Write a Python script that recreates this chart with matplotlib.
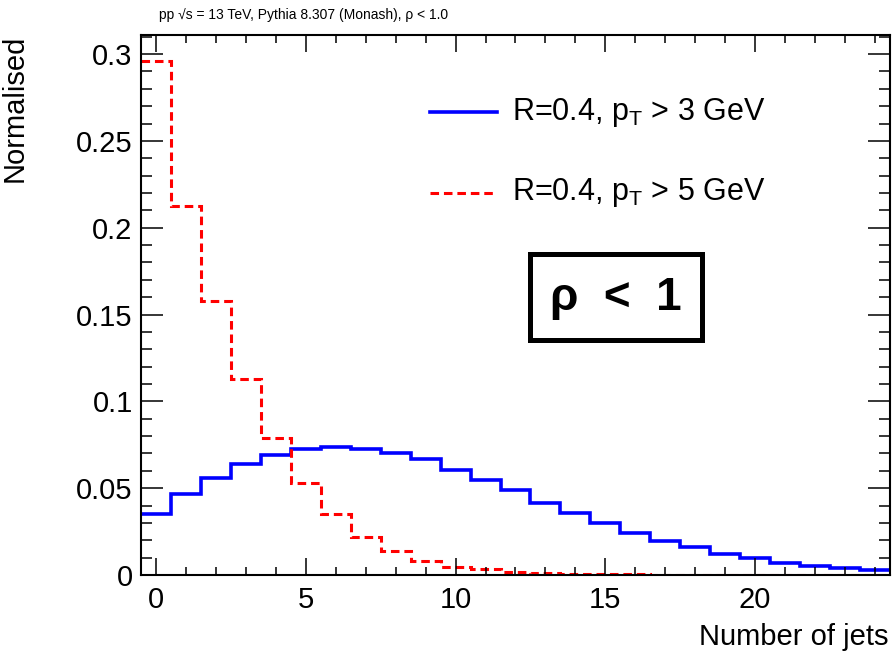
# Jet multiplicity, rho < 1, two pT thresholds
import matplotlib
matplotlib.use('Agg')
import matplotlib.pyplot as plt
from matplotlib.patches import Rectangle
from matplotlib.ticker import MultipleLocator, FixedLocator
import numpy as np

plt.rcParams['font.family'] = ['Liberation Sans', 'DejaVu Sans']
plt.rcParams['mathtext.fontset'] = 'custom'
plt.rcParams['mathtext.rm'] = 'Liberation Sans'
plt.rcParams['mathtext.it'] = 'Liberation Sans'

# bin centres: integer jet counts
n_jets = list(range(0, 25))

pt3 = [0.0350, 0.0465, 0.0561, 0.0640, 0.0692, 0.0725, 0.0736, 0.0725,
       0.0702, 0.0667, 0.0606, 0.0548, 0.0490, 0.0417, 0.0356, 0.0302,
       0.0244, 0.0198, 0.0159, 0.0121, 0.0096, 0.0071, 0.0054, 0.0038,
       0.0029]
pt5 = [0.2962, 0.2125, 0.1580, 0.1131, 0.0788, 0.0529, 0.0350, 0.0221,
       0.0138, 0.0081, 0.0048, 0.0032, 0.0019, 0.0012, 0.0008, 0.0005,
       0.0003, 0.0002, 0.0001, 0.0001, 0.0, 0.0, 0.0, 0.0, 0.0]

ytick_vals = [0, 0.05, 0.1, 0.15, 0.2, 0.25, 0.3]
ytick_labels = ['0', '0.05', '0.1', '0.15', '0.2', '0.25', '0.3']
xtick_vals = [0, 5, 10, 15, 20]

label3 = r'R=0.4, p$_{\mathrm{T}}$ > 3 GeV'
label5 = r'R=0.4, p$_{\mathrm{T}}$ > 5 GeV'


def main():
    fig = plt.figure(figsize=(8.94, 6.57), dpi=100)
    ax = fig.add_axes([0.1577, 0.1248, 0.8378, 0.8219])

    edges = np.append(np.array(n_jets) - 0.5, n_jets[-1] + 0.5)
    ax.stairs(pt3, edges, baseline=None, color='#0000ff', lw=2.6)
    ax.stairs(pt5, edges, baseline=None, color='#ff0000', lw=2.2,
              linestyle=(0, (2.8, 1.6)))

    ax.set_xlim(-0.5, 24.5)
    ax.set_ylim(0, 0.311)

    ax.xaxis.set_major_locator(FixedLocator(xtick_vals))
    ax.xaxis.set_minor_locator(MultipleLocator(1))
    ax.set_yticks(ytick_vals)
    ax.set_yticklabels(ytick_labels)
    ax.yaxis.set_minor_locator(MultipleLocator(0.01))

    ax.tick_params(which='both', direction='in', top=True, right=True,
                   width=1.1, labelsize=21, color='black')
    ax.tick_params(axis='x', which='major', length=12, pad=8)
    ax.tick_params(axis='x', which='minor', length=6)
    ax.tick_params(axis='y', which='major', length=16, pad=6)
    ax.tick_params(axis='y', which='minor', length=8)
    for s in ax.spines.values():
        s.set_linewidth(1.5)

    ax.set_xlabel('Number of jets', fontsize=21, loc='right')
    ax.xaxis.set_label_coords(0.998, -0.088)
    ax.set_ylabel('Normalised', fontsize=21, loc='top')
    ax.yaxis.set_label_coords(-0.15, 1.0)

    fig.text(0.178, 0.977, 'pp √s = 13 TeV, Pythia 8.307 (Monash), ρ < 1.0',
             fontsize=10, va='center', ha='left')

    # legend drawn by hand, ROOT style
    fig.add_artist(plt.Line2D([0.481, 0.556], [0.829, 0.829], color='#0000ff', lw=2.6))
    fig.add_artist(plt.Line2D([0.481, 0.556], [0.707, 0.707], color='#ff0000', lw=2.2,
                              linestyle=(0, (2.8, 1.6))))
    fig.text(0.573, 0.829, label3, fontsize=22, va='center', ha='left')
    fig.text(0.573, 0.707, label5, fontsize=22, va='center', ha='left')

    fig.add_artist(Rectangle((0.593, 0.482), 0.192, 0.131, transform=fig.transFigure,
                             fill=False, lw=3.6, edgecolor='black'))
    fig.text(0.689, 0.546, 'ρ  <  1', fontsize=33, fontweight='bold',
             ha='center', va='center')

    fig.savefig('out.png', dpi=100)


if __name__ == '__main__':
    main()
